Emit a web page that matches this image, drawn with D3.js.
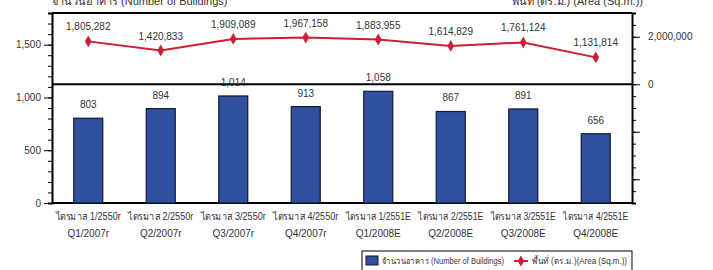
<!DOCTYPE html>
<html lang="th">
<head>
<meta charset="utf-8">
<title>Buildings and area</title>
<script src="https://d3js.org/d3.v7.min.js"></script>
<style>
    body { margin: 0; background: #fff; }
    svg { display: block; }
    text { font-family: "Liberation Sans", Arial, "Noto Sans", "DejaVu Sans", sans-serif; fill: #333; }
    .tick text { font-size: 10px; }
    .vals { font-size: 10px; }
    .cat { font-size: 10px; }
</style>
</head>
<body>
<div id="frame"></div>
<script>
// data
const thaiLabels = ["ไตรมาส 1/2550r", "ไตรมาส 2/2550r", "ไตรมาส 3/2550r", "ไตรมาส 4/2550r",
                    "ไตรมาส 1/2551E", "ไตรมาส 2/2551E", "ไตรมาส 3/2551E", "ไตรมาส 4/2551E"];
const engLabels = ["Q1/2007r", "Q2/2007r", "Q3/2007r", "Q4/2007r",
                   "Q1/2008E", "Q2/2008E", "Q3/2008E", "Q4/2008E"];
const buildings = [803, 894, 1014, 913, 1058, 867, 891, 656];
const area = [1805282, 1420833, 1909089, 1967158, 1883955, 1614829, 1761124, 1131814];
const leftTicks = [0, 500, 1000, 1500];
const rightTicks = [0, 2000000];

const W = 713, H = 270;
const pLeft = 52, pRight = 632, pTop = 13, pBottom = 203;
const blue = "#2f4f9f", red = "#cc1e35";

const svg = d3.select("#frame").append("svg").attr("width", W).attr("height", H);

const x = d3.scaleBand().domain(engLabels).range([pLeft, pRight]).paddingInner(0.6).paddingOuter(0.3);
const yL = d3.scaleLinear().domain([0, 1800]).range([pBottom, pTop]);
const yR = d3.scaleLinear().domain([-5000000, 3000000]).range([pBottom, pTop]);

// titles (cut at top edge, as in the source)
svg.append("text").attr("x", pLeft).attr("y", 5).style("font-size", "11px")
    .text("จำนวนอาคาร (Number of Buildings)");
svg.append("text").attr("x", 643).attr("y", 5).attr("text-anchor", "end").style("font-size", "11px")
    .text("พื้นที่ (ตร.ม.) (Area (Sq.m.))");

// left axis: minor ticks every 100, labelled ticks every 500
const gL = svg.append("g").attr("transform", `translate(${pLeft},0)`);
gL.call(d3.axisLeft(yL).tickValues(d3.range(0, 1801, 100)).tickSize(4).tickFormat(""));
gL.append("g").call(d3.axisLeft(yL).tickValues(leftTicks).tickSize(8).tickPadding(3).tickFormat(d3.format(",")))
    .select(".domain").remove();
gL.selectAll("line, path").attr("stroke", "#000");
gL.select(".domain").attr("stroke-width", 2);

// right axis: minor ticks every 500,000, major every 2,000,000
const gR = svg.append("g").attr("transform", `translate(${pRight},0)`);
gR.call(d3.axisRight(yR).tickValues(d3.range(-5000000, 3000001, 500000)).tickSize(4).tickFormat(""));
gR.append("g").call(d3.axisRight(yR).tickValues([-4000000, -2000000, 0, 2000000]).tickSize(8).tickPadding(8)
    .tickFormat(d => rightTicks.includes(d) ? d3.format(",")(d) : ""))
    .select(".domain").remove();
gR.selectAll("line, path").attr("stroke", "#000");
gR.select(".domain").attr("stroke-width", 2);

// frame lines
svg.append("line").attr("x1", pLeft).attr("x2", pRight).attr("y1", pTop).attr("y2", pTop)
    .attr("stroke", "#000").attr("stroke-width", 2);
svg.append("line").attr("x1", pLeft).attr("x2", pRight).attr("y1", yR(0)).attr("y2", yR(0))
    .attr("stroke", "#000").attr("stroke-width", 2);
svg.append("line").attr("x1", pLeft).attr("x2", pRight).attr("y1", pBottom).attr("y2", pBottom)
    .attr("stroke", "#000").attr("stroke-width", 2);

// bars
svg.selectAll("rect.bar").data(buildings).enter().append("rect").attr("class", "bar")
    .attr("x", (d, i) => x(engLabels[i]))
    .attr("y", d => yL(d))
    .attr("width", x.bandwidth())
    .attr("height", d => yL(0) - yL(d))
    .attr("fill", blue).attr("stroke", "#111a33").attr("stroke-width", 1.2);

svg.selectAll("text.bv").data(buildings).enter().append("text").attr("class", "vals")
    .attr("x", (d, i) => x(engLabels[i]) + x.bandwidth() / 2)
    .attr("y", d => yL(d) - 10)
    .attr("text-anchor", "middle")
    .text(d3.format(","));

// line
const cx = i => x(engLabels[i]) + x.bandwidth() / 2;
svg.append("path").datum(area)
    .attr("d", d3.line().x((d, i) => cx(i)).y(d => yR(d)))
    .attr("fill", "none").attr("stroke", red).attr("stroke-width", 2);
svg.selectAll("path.pt").data(area).enter().append("path")
    .attr("transform", (d, i) => `translate(${cx(i)},${yR(d)})`)
    .attr("d", d3.symbol(d3.symbolDiamond, 40))
    .attr("fill", red);
svg.selectAll("text.lv").data(area).enter().append("text").attr("class", "vals")
    .attr("x", (d, i) => cx(i))
    .attr("y", d => yR(d) - 11)
    .attr("text-anchor", "middle")
    .text(d3.format(","));

// category labels
svg.selectAll("text.th").data(thaiLabels).enter().append("text").attr("class", "cat")
    .attr("x", (d, i) => cx(i)).attr("y", 220).attr("text-anchor", "middle")
    .attr("textLength", 65).attr("lengthAdjust", "spacingAndGlyphs")
    .text(d => d);
svg.selectAll("text.en").data(engLabels).enter().append("text").attr("class", "cat")
    .attr("x", (d, i) => cx(i)).attr("y", 237).attr("text-anchor", "middle").text(d => d);

// legend
const lg = svg.append("g");
lg.append("rect").attr("x", 362).attr("y", 251).attr("width", 270).attr("height", 30)
    .attr("fill", "#fff").attr("stroke", "#000").attr("stroke-width", 1);
lg.append("rect").attr("x", 366).attr("y", 256).attr("width", 12).attr("height", 9)
    .attr("fill", blue).attr("stroke", "#111a33");
lg.append("text").attr("x", 382).attr("y", 264).style("font-size", "8.5px")
    .attr("textLength", 122).attr("lengthAdjust", "spacingAndGlyphs")
    .text("จำนวนอาคาร (Number of Buildings)");
lg.append("line").attr("x1", 514).attr("x2", 528).attr("y1", 261).attr("y2", 261)
    .attr("stroke", red).attr("stroke-width", 2);
lg.append("path").attr("transform", "translate(521,261)")
    .attr("d", d3.symbol(d3.symbolDiamond, 36)).attr("fill", red);
lg.append("text").attr("x", 532).attr("y", 264).style("font-size", "8.5px")
    .attr("textLength", 95).attr("lengthAdjust", "spacingAndGlyphs")
    .text("พื้นที่ (ตร.ม.)(Area (Sq.m.))");
</script>
</body>
</html>
